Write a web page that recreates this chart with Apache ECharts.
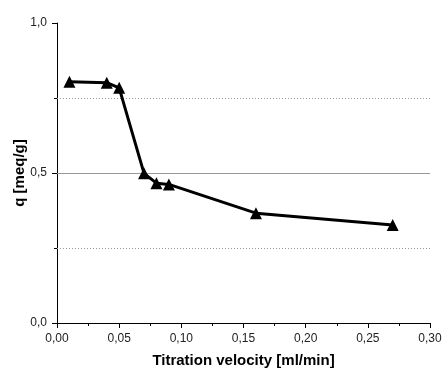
<!DOCTYPE html>
<html>
<head>
<meta charset="utf-8">
<script src="https://cdn.jsdelivr.net/npm/echarts@6/dist/echarts.min.js"></script>
<style>html,body{margin:0;padding:0;background:#fff}#c{width:443px;height:369px}</style>
</head>
<body>
<div id="c"></div>
<script>
var velocity = [0.01, 0.04, 0.05, 0.07, 0.08, 0.09, 0.16, 0.27];
var qValues = [0.804, 0.801, 0.784, 0.499, 0.466, 0.462, 0.366, 0.327];
var dottedGrid = [0.25, 0.75];
var solidGrid = [0.5];
var xName = 'Titration velocity [ml/min]';
var yName = 'q [meq/g]';

var font = 'Liberation Sans, Arial, sans-serif';
function comma(v, d) { return v.toFixed(d).replace('.', ','); }

var markData = [];
dottedGrid.forEach(function (v) {
  markData.push({ yAxis: v, lineStyle: { type: [1, 2], color: '#999', width: 1 } });
});
solidGrid.forEach(function (v) {
  markData.push({ yAxis: v, lineStyle: { type: 'solid', color: '#999', width: 1 } });
});

var chart = echarts.init(document.getElementById('c'), null, { renderer: 'canvas' });
chart.setOption({
  animation: false,
  backgroundColor: '#fff',
  grid: { left: 57, right: 13, top: 23, bottom: 46, containLabel: false, outerBoundsMode: 'none' },
  xAxis: {
    type: 'value', min: 0, max: 0.3, interval: 0.05,
    name: xName, nameLocation: 'middle', nameGap: 30, nameMoveOverlap: false,
    nameTextStyle: { fontFamily: font, fontSize: 15, fontWeight: 'bold', color: '#000' },
    axisLine: { show: true, onZero: false, lineStyle: { color: '#000', width: 1 } },
    axisTick: { show: true, length: 5, lineStyle: { color: '#000' } },
    minorTick: { show: true, splitNumber: 2, length: 3, lineStyle: { color: '#000' } },
    splitLine: { show: false },
    axisLabel: { fontFamily: font, fontSize: 12, color: '#222', margin: 10,
      formatter: function (v) { return comma(v, 2); } }
  },
  yAxis: {
    type: 'value', min: 0, max: 1, interval: 0.5,
    name: yName, nameLocation: 'middle', nameGap: 30, nameMoveOverlap: false,
    nameTextStyle: { fontFamily: font, fontSize: 15, fontWeight: 'bold', color: '#000' },
    axisLine: { show: true, onZero: false, lineStyle: { color: '#000', width: 1 } },
    axisTick: { show: true, length: 5, lineStyle: { color: '#000' } },
    minorTick: { show: true, splitNumber: 2, length: 3, lineStyle: { color: '#000' } },
    splitLine: { show: false },
    axisLabel: { fontFamily: font, fontSize: 12, color: '#222', margin: 10,
      formatter: function (v) { return comma(v, 1); } }
  },
  series: [{
    type: 'line',
    data: velocity.map(function (x, i) { return [x, qValues[i]]; }),
    symbol: 'triangle', symbolSize: 12,
    itemStyle: { color: '#000' },
    lineStyle: { color: '#000', width: 3 },
    z: 5,
    markLine: {
      silent: true, symbol: ['none', 'none'], label: { show: false },
      animation: false, z: 1,
      data: markData
    }
  }]
});
</script>
</body>
</html>
